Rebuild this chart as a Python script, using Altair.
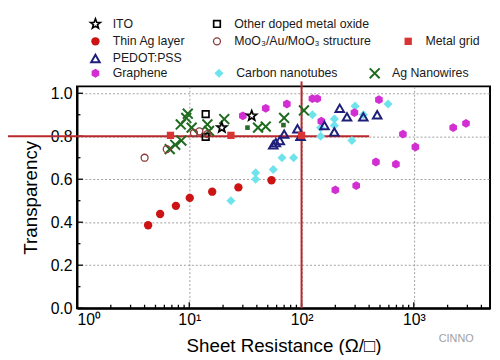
import math
import altair as alt
import pandas as pd

# ---------------- data ----------------
ito_R = [19.5, 36]
ito_T = [0.84, 0.895]

thin_ag_R = [4.3, 5.5, 7.6, 10.1, 16, 27.4, 54]
thin_ag_T = [0.386, 0.438, 0.476, 0.513, 0.542, 0.562, 0.595]

pedot_R = [56, 59, 64, 70, 92, 98, 160, 196, 219, 254, 355, 472]
pedot_T = [0.76, 0.77, 0.78, 0.81, 0.835, 0.80, 0.85, 0.82, 0.93, 0.89, 0.89, 0.90]

graphene_R = [30, 48, 74, 125, 138, 150, 200, 296, 307, 460, 489, 693, 800, 1033, 2243, 2917]
graphene_T = [0.895, 0.93, 0.95, 0.975, 0.975, 0.87, 0.55, 0.91, 0.57, 0.68, 0.97, 0.67, 0.81, 0.75, 0.84, 0.86]

oxide_R = [14, 14]
oxide_T = [0.903, 0.797]

moo3_R = [4, 6.3, 11, 12.3, 14.5]
moo3_T = [0.70, 0.74, 0.815, 0.823, 0.81]

grid_R = [6.8, 23.5, 100]
grid_T = [0.804, 0.804, 0.804]

cnt_R = [23.5, 39, 39, 56, 67, 85, 125, 148, 148, 196, 196, 281, 300, 356, 590]
cnt_T = [0.50, 0.63, 0.60, 0.645, 0.70, 0.70, 0.90, 0.84, 0.80, 0.88, 0.85, 0.78, 0.94, 0.90, 0.95]

agnw_R = [6.7, 7.5, 8.5, 8.4, 9.4, 9.7, 10.5, 14.5, 15, 20.5, 41, 48, 70, 105]
agnw_T = [0.74, 0.76, 0.78, 0.855, 0.885, 0.905, 0.84, 0.855, 0.825, 0.88, 0.84, 0.845, 0.885, 0.92]

extra_R = [33, 69]
extra_T = [0.84, 0.852]

# reference lines
ref_T = 0.8
ref_R = 100
ref_R_end = 400

# axis ticks
x_major = [1, 10, 100, 1000]
x_minor = [m * 10 ** k for k in range(4) for m in range(2, 10) if m * 10 ** k < 4775]
y_major = [0.0, 0.2, 0.4, 0.6, 0.8, 1.0]
y_minor = [0.1, 0.3, 0.5, 0.7, 0.9]

FONT = "Liberation Sans"
W, H = 419, 225
xs = alt.Scale(type="log", domain=[1, 4775])
ys = alt.Scale(domain=[0, 1.032])

# ---------------- symbol shapes ----------------
def star_path(inner=0.42):
    pts = []
    for i in range(10):
        r = 1 if i % 2 == 0 else inner
        a = -math.pi / 2 + i * math.pi / 5
        pts.append(f"{r*math.cos(a):.3f},{r*math.sin(a):.3f}")
    return "M" + "L".join(pts) + "Z"

STAR = star_path()
HEX = "M0,-1L0.866,-0.5L0.866,0.5L0,1L-0.866,0.5L-0.866,-0.5Z"
XSYM = "M-1,-1L1,1M-1,1L1,-1"

layers = []

# axis layer (carries the axes and grid)
axis_layer = alt.Chart(pd.DataFrame({"R": [1], "T": [0]})).mark_point(opacity=0).encode(
    x=alt.X("R:Q", scale=xs, axis=alt.Axis(
        values=x_major, ticks=False, grid=True, gridDash=[2, 2], gridColor="#a0a0a0",
        gridWidth=1, domainColor="black", domainWidth=2,
        labelExpr="'10' + ['⁰','¹','²','³','⁴'][round(log(datum.value)/LN10)]",
        labelFont=FONT, labelFontSize=16, labelColor="black", labelPadding=4,
        title="Sheet Resistance (Ω/□)", titleFont=FONT, titleFontSize=19,
        titleFontWeight="normal", titleColor="black", titlePadding=9)),
    y=alt.Y("T:Q", scale=ys, axis=alt.Axis(
        values=y_major, format=".1f", ticks=False, grid=True, gridDash=[2, 2],
        gridColor="#a0a0a0", gridWidth=1, domainColor="black", domainWidth=2,
        labelFont=FONT, labelFontSize=16, labelColor="black", labelPadding=5,
        title="Transparency", titleFont=FONT, titleFontSize=19,
        titleFontWeight="normal", titleColor="black", titlePadding=10)),
)
layers.append(axis_layer)

# inward ticks
def yticks(vals, length):
    return alt.Chart(pd.DataFrame({"T": vals})).mark_rule(color="black", strokeWidth=1.3).encode(
        y=alt.Y("T:Q", scale=ys), x=alt.value(0), x2=alt.value(length))

def xticks(vals, length):
    return alt.Chart(pd.DataFrame({"R": vals})).mark_rule(color="black", strokeWidth=1.3).encode(
        x=alt.X("R:Q", scale=xs), y=alt.value(H), y2=alt.value(H - length))

layers += [yticks(y_major, 6), yticks(y_minor, 3.5), xticks(x_major, 6), xticks(x_minor, 3.5)]

# red reference lines
RED = "#b8282c"
layers.append(alt.Chart(pd.DataFrame({"a": [0]})).mark_rule(color=RED, strokeWidth=2).encode(
    x=alt.X(datum=0.243, scale=xs), x2=alt.X2(datum=ref_R_end), y=alt.Y(datum=ref_T, scale=ys)))
layers.append(alt.Chart(pd.DataFrame({"a": [0]})).mark_rule(color=RED, strokeWidth=2).encode(
    x=alt.X(datum=ref_R, scale=xs), y=alt.Y(datum=0, scale=ys), y2=alt.Y2(datum=1.055)))


def pts(R, T, **mk):
    df = pd.DataFrame({"R": R, "T": T})
    return alt.Chart(df).mark_point(opacity=1, **mk).encode(
        x=alt.X("R:Q", scale=xs), y=alt.Y("T:Q", scale=ys))


# series styles: (R, T, label, legend x, legend y, mark props)
series = [
    (cnt_R, cnt_T, "Carbon nanotubes", 144, -13.3,
     dict(shape="diamond", size=85, filled=True, color="#6fe3ec")),
    (graphene_R, graphene_T, "Graphene", 18.7, -13.3,
     dict(shape=HEX, size=80, filled=True, color="#d22fd2")),
    (pedot_R, pedot_T, "PEDOT:PSS", 18.7, -28.3,
     dict(shape="triangle-up", size=75, filled=False, color="#1f1f7a", strokeWidth=2)),
    (thin_ag_R, thin_ag_T, "Thin Ag layer", 18.7, -45.7,
     dict(shape="circle", size=72, filled=True, color="#cc1414")),
    (agnw_R, agnw_T, "Ag Nanowires", 302, -13.3,
     dict(shape=XSYM, size=100, filled=False, color="#1e6a1e", strokeWidth=2)),
    (ito_R, ito_T, "ITO", 18.7, -63.3,
     dict(shape=STAR, size=110, filled=False, color="black", strokeWidth=1.7)),
    (oxide_R, oxide_T, "Other doped metal oxide", 142, -63.3,
     dict(shape="square", size=45, filled=False, color="black", strokeWidth=1.7)),
    (moo3_R, moo3_T, "MoO₃/Au/MoO₃ structure", 142, -45.7,
     dict(shape="circle", size=50, filled=False, color="#8a3a3a", strokeWidth=1.3)),
    (grid_R, grid_T, "Metal grid", 336, -45.7,
     dict(shape="square", size=55, filled=True, color="#d83434")),
]

layers.append(pts(extra_R, extra_T, shape="square", size=22, filled=True, color="#2a6a2a"))

for R, T, label, lx, ly, mk in series:
    layers.append(pts(R, T, **mk))
    one = pd.DataFrame({"a": [0]})
    layers.append(alt.Chart(one).mark_point(opacity=1, **mk).encode(
        x=alt.value(lx), y=alt.value(ly)))
    layers.append(alt.Chart(one).mark_text(
        text=label, align="left", baseline="middle", font=FONT, fontSize=12.5, color="#1a1a1a"
    ).encode(x=alt.value(lx + 17.5), y=alt.value(ly)))

# watermark
layers.append(alt.Chart(pd.DataFrame({"a": [0]})).mark_text(
    text="CINNO", align="left", baseline="middle", font=FONT, fontSize=11, color="#a0a0a0"
).encode(x=alt.value(367), y=alt.value(256)))

chart = alt.layer(*layers).properties(
    width=W, height=H,
    background="white",
    autosize=alt.AutoSizeParams(type="none"),
    padding={"left": 70, "top": 77, "right": 2, "bottom": 45},
).configure_view(stroke="black", strokeWidth=2)

chart.save("out.html", embed_options={"renderer": "svg", "actions": False})
